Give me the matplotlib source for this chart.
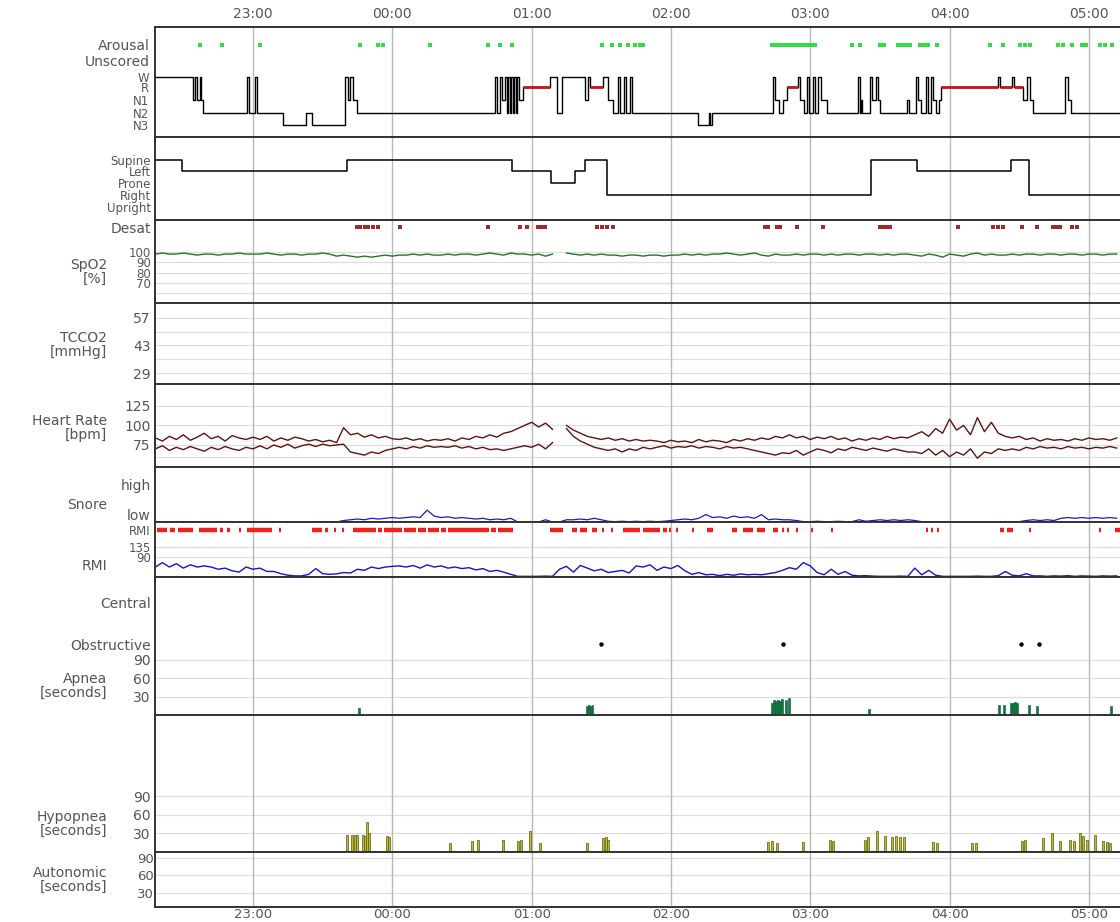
import matplotlib
matplotlib.use("Agg")
import matplotlib.pyplot as plt
import numpy as np

# time is in minutes after 22:00
W_PX, H_PX = 1120, 922
LEFT_PX, RIGHT_PX = 155, 1130
T0, T1 = 17.8, 437.7

hour_ticks = [60, 120, 180, 240, 300, 360, 420]
hour_labels = ['23:00', '00:00', '01:00', '02:00', '03:00', '04:00', '05:00']

# ---------------- hypnogram ----------------
hyp_t = [17.8, 34.2, 35.0, 35.9, 37.2, 37.6, 38.5, 57.4, 58.3, 60.9, 61.7, 72.9, 82.8, 85.4,
         99.6, 100.9, 101.8, 103.1, 104.8, 164.2, 165.1, 166.4, 167.2, 168.5, 169.4, 169.8,
         170.7, 171.1, 172.0, 172.4, 173.3, 173.7, 174.6, 176.3, 187.9, 190.9, 193.1, 203.0,
         204.3, 205.1, 210.7, 212.9, 215.1, 217.2, 218.1, 219.8, 220.7, 222.4, 223.2, 251.7,
         256.4, 256.8, 257.7, 284.0, 284.8, 286.6, 288.3, 290.0, 294.7, 295.6, 297.3, 298.6,
         299.5, 301.2, 302.0, 303.3, 304.6, 307.2, 320.5, 321.4, 321.8, 322.3, 325.7, 326.6,
         328.3, 329.2, 330.0, 341.7, 342.5, 345.6, 346.4, 347.7, 349.8, 350.7, 352.0, 352.9,
         354.2, 355.5, 356.3, 380.9, 381.7, 386.9, 387.8, 391.6, 393.4, 394.6, 395.9, 409.7,
         411.0, 412.3]
hyp_stage = ['W', 'N1', 'W', 'N1', 'W', 'N1', 'N2', 'W', 'N2', 'W', 'N2', 'N3', 'N2', 'N3',
             'W', 'N1', 'W', 'N1', 'N2', 'W', 'N2', 'W', 'N1', 'W', 'N2', 'W',
             'N2', 'W', 'N2', 'W', 'N2', 'W', 'N1', 'R', 'W', 'N2', 'W', 'N1',
             'W', 'R', 'W', 'N1', 'N2', 'W', 'N2', 'W', 'N2', 'W', 'N2', 'N3',
             'N2', 'N3', 'N2', 'W', 'N1', 'N2', 'N1', 'R', 'W', 'N1', 'N2', 'W',
             'N2', 'W', 'N2', 'W', 'N1', 'N2', 'W', 'N2', 'N1', 'N2', 'W', 'N1',
             'W', 'N1', 'N2', 'N1', 'N2', 'W', 'N1', 'N2', 'W', 'N2', 'W', 'N1',
             'N2', 'N1', 'R', 'W', 'R', 'W', 'R', 'N1', 'W', 'N1', 'N2', 'W',
             'N1', 'N2']

arousal_t = [37.2, 46.6, 63.0, 106.1, 113.8, 116.0, 136.2, 161.2, 166.4, 171.5, 210.3, 214.6,
             218.1, 221.5, 224.5, 226.7, 228.0, 283.5, 285.3, 287.0, 288.3, 290.0, 291.7,
             293.4, 295.2, 296.9, 298.6, 300.3, 302.0, 318.0, 321.4, 330.0, 331.8, 337.8,
             339.5, 341.3, 343.0, 347.3, 349.0, 350.7, 354.6, 377.4, 383.0, 390.3, 392.5,
             394.6, 406.7, 408.9, 412.7, 417.1, 418.8, 424.8, 427.0, 430.0]

# ---------------- body position ----------------
pos_t = [17.8, 29.4, 100.5, 171.5, 188.3, 198.7, 203.0, 212.5, 326.2, 346.0, 386.5, 394.2]
pos_name = ['Supine', 'Left', 'Supine', 'Left', 'Prone', 'Left', 'Supine', 'Right',
            'Supine', 'Left', 'Supine', 'Right']

desat_t = [104.8, 106.1, 108.2, 109.5, 111.7, 113.8, 123.3, 161.2, 175.0, 178.0, 182.7, 184.5,
           185.8, 208.2, 210.3, 212.5, 215.1, 280.5, 281.8, 285.7, 287.0, 294.3, 305.5, 330.0,
           331.3, 332.6, 334.4, 363.6, 378.7, 380.9, 383.0, 391.2, 397.7, 404.6, 406.3, 407.6,
           412.7, 414.9]

# ---------------- sampled traces (every 3 min from 18) ----------------
TRACE_START, TRACE_STEP = 18, 3
nan = np.nan

spo2 = [98, 99, 98, 98, 99, 98, 97, 98, 98, 97, 98, 98, 99, 98, 98,
        98, 99, 98, 97, 98, 98, 97, 98, 98, 99, 98, 96, 97, 96,
        95, 96, 95, 96, 97, 96, 97, 97, 98, 97, 98, 97, 97,
        98, 97, 98, 98, 97, 98, 99, 98, 97, 99, 98, 98,
        97, 98, 96, 98, nan,
        99, 98, 97, 98, 97, 98, 97, 97, 96, 97, 97, 96, 97,
        97, 96, 97, 97, 98, 97, 98, 97, 98, 98, 99, 98, 97, 98, 99, 97, 96, 98, 97,
        97, 98, 97, 98, 98, 97, 98, 97, 98, 98, 97, 98, 98, 97, 98, 97, 98, 98,
        97, 96, 98, 97, 95, 98, 97, 96, 98, 99, 97, 98, 97, 97,
        98, 97, 98, 98, 97, 98, 98, 97, 98, 98, 97, 98, 98, 97, 98, 98]

hr_hi = [84, 80, 86, 82, 88, 81, 85, 90, 83, 86, 80, 87, 84, 82, 85,
         82, 86, 80, 84, 81, 85, 83, 80, 82, 79, 81, 78, 97, 88,
         90, 85, 88, 84, 86, 83, 82, 84, 81, 83, 80, 82, 81,
         83, 80, 84, 82, 86, 84, 88, 85, 90, 92, 96, 100,
         104, 98, 103, 95, nan,
         100, 94, 90, 86, 84, 82, 84, 81, 83, 80, 82, 80, 81,
         80, 78, 81, 79, 80, 78, 82, 79, 81, 80, 78, 82, 80, 83, 81, 84, 82, 86, 84,
         88, 84, 86, 82, 85, 83, 86, 82, 84, 80, 83, 81, 84, 82, 86, 83, 85, 84,
         88, 92, 86, 96, 90, 108, 94, 100, 88, 110, 92, 104, 90, 86,
         84, 86, 82, 84, 80, 83, 81, 82, 80, 83, 81, 84, 82, 83, 81, 84]
hr_lo = [70, 74, 68, 72, 69, 73, 70, 67, 72, 69, 73, 70, 68, 72, 70,
         74, 70, 75, 72, 76, 71, 74, 76, 73, 76, 74, 75, 76, 66,
         64, 62, 66, 64, 68, 70, 72, 70, 73, 71, 74, 72, 73,
         72, 74, 71, 73, 70, 72, 69, 70, 68, 70, 72, 74,
         72, 76, 70, 78, nan,
         96, 86, 80, 76, 72, 70, 68, 70, 66, 70, 68, 72, 70,
         72, 74, 71, 73, 72, 74, 71, 73, 72, 70, 73, 71, 72, 70, 68, 66, 64, 62, 65,
         64, 68, 62, 66, 70, 68, 65, 70, 68, 72, 70, 68, 71, 69, 67, 70, 68, 66,
         66, 64, 70, 62, 68, 60, 66, 62, 70, 58, 66, 64, 70, 68,
         70, 68, 72, 70, 73, 71, 72, 70, 73, 71, 72, 70, 72, 71, 73, 71]

snore = [0] * 27 + \
        [0.2, 0.3, 0.4, 0.3, 0.5, 0.4, 0.5, 0.6, 0.5, 0.6, 0.7, 0.6, 1.6, 0.8, 0.6, 0.7, 0.5,
         0.6, 0.5, 0.4, 0.5, 0.3, 0.4, 0.3, 0.5,
         0, 0, 0, 0, 0.3,
         0, 0, 0.3,
         0.3, 0.4, 0.3, 0.5, 0.3,
         0.1, 0.05, 0.1, 0.05, 0.1, 0.05, 0.1, 0.05, 0.1, 0.2,
         0.3, 0.4, 0.3, 0.5,
         1.0, 0.6, 0.7, 0.5, 0.8, 0.6, 0.7, 0.5, 1.0,
         0.3, 0.4, 0.3, 0.3, 0.2,
         0.05, 0.05, 0.1, 0.05, 0.05, 0.1, 0.05, 0.05, 0.3,
         0.1, 0.2, 0.3, 0.2, 0.3, 0.2, 0.3, 0.2] + \
        [0.05] * 15 + \
        [0.2, 0.3, 0.2, 0.3, 0.2,
         0.5, 0.6, 0.5, 0.6, 0.5, 0.6, 0.5, 0.6, 0.5]

rmi = [45, 65, 45, 60, 40, 55, 45, 50, 45, 35, 40, 28, 22, 45, 35,
       40, 25, 25, 15, 8, 5, 5, 12, 38, 15, 12, 14, 20, 18,
       35, 30, 45, 38, 45, 48, 50, 45, 52, 40, 55, 45, 50,
       40, 45, 38, 42, 32, 38, 25, 30, 22, 12, 3, 3,
       3, 3, 4, 3, 35,
       48, 22, 52, 40, 28, 35, 20, 25, 30, 18, 50, 45, 55,
       30, 45, 38, 52, 28, 12, 20, 10, 12, 6, 12, 8, 14, 10, 12, 10, 15, 20, 30,
       42, 35, 65, 50, 20, 10, 35, 12, 25, 8, 5, 6, 4, 3, 3, 3, 4, 3,
       40, 10, 30, 8, 3, 3, 3, 3, 3, 4, 3, 3, 6, 25,
       8, 5, 15, 5, 5, 3, 5, 4, 6, 3, 5, 4, 3, 5, 4, 5]

rmi_marks = [(18.7, 23.0), (24.3, 26.4), (27.7, 34.2), (36.7, 44.5), (45.8, 47.1), (48.8, 50.1),
             (54.0, 55.0), (57.4, 68.2), (71.2, 72.2), (85.4, 89.7), (91.0, 92.3), (94.8, 95.8),
             (98.3, 99.3), (103.1, 113.0), (113.8, 115.6), (116.4, 124.2), (125.0, 130.2),
             (131.1, 134.5), (135.4, 140.1), (141.0, 143.1), (144.0, 161.6), (162.5, 164.7),
             (165.5, 172.0), (187.9, 193.5), (197.4, 199.5), (200.8, 203.9), (206.0, 208.2),
             (210.2, 211.2), (214.1, 215.1), (219.4, 226.7), (228.0, 235.3), (236.6, 238.3),
             (239.1, 240.1), (242.1, 243.1), (249.0, 250.0), (255.5, 258.1), (266.3, 268.5),
             (271.0, 275.3), (277.1, 280.5), (284.0, 286.2), (287.8, 288.8), (290.0, 291.0),
             (293.8, 294.8), (300.2, 301.2), (308.8, 309.8), (349.8, 350.8), (352.0, 353.0),
             (354.6, 355.6), (381.7, 383.5), (384.8, 387.3), (394.1, 395.1), (424.3, 425.3),
             (431.3, 433.4)]

# ---------------- respiratory events ----------------
obstructive_t = [209.9, 288.3, 390.8, 398.5]

apnea_t = [105.7, 203.7, 204.6, 205.4, 206.2, 283.5, 284.4, 285.3, 286.1, 287.0, 287.8, 289.5,
           290.8, 325.3, 381.2, 383.3, 386.5, 387.4, 388.2, 389.1, 394.2, 397.6, 429.5]
apnea_s = [12, 14, 16, 15, 17, 20, 24, 22, 25, 23, 26, 24, 27, 10, 16, 17, 19, 20, 21, 19, 16,
           14, 15]

hypop_t = [100.5, 102.6, 103.9, 104.8, 107.4, 108.2, 109.1, 110.0, 117.7, 118.6, 144.8, 154.3,
           156.9, 167.7, 174.1, 175.4, 179.3, 183.6, 203.9, 210.8, 212.0, 212.9, 281.8, 283.5,
           285.7, 296.9, 308.5, 309.8, 323.6, 324.9, 328.8, 332.2, 335.2, 336.9, 338.7, 340.4,
           352.9, 354.6, 369.7, 371.4, 391.2, 392.5, 400.3, 404.1, 407.6, 411.9, 413.6, 416.2,
           417.5, 419.2, 422.5, 426.1, 427.8, 429.1]
hypop_s = [28, 27, 28, 27, 28, 26, 48, 30, 26, 24, 14, 18, 20, 20, 18, 20, 34, 14, 15, 22, 24,
           20, 16, 18, 15, 16, 20, 18, 20, 24, 34, 26, 24, 26, 24, 25, 16, 14, 15, 14, 18, 20,
           22, 30, 18, 20, 18, 30, 26, 20, 28, 18, 16, 15]

TXT = '#555555'
FS = 10
FS_TIGHT = 8.5   # crowded tick labels

fig = plt.figure(figsize=(W_PX / 100, H_PX / 100), dpi=100)


def make_axes(top, bottom, ylim):
    ax = fig.add_axes([LEFT_PX / W_PX, 1 - bottom / H_PX,
                       (RIGHT_PX - LEFT_PX) / W_PX, (bottom - top) / H_PX])
    ax.set_xlim(T0, T1)
    ax.set_ylim(*ylim)
    for s in ax.spines.values():
        s.set_color('#333333')
        s.set_linewidth(1.4)
    ax.set_xticks(hour_ticks)
    ax.tick_params(length=0, labelsize=FS, colors=TXT, pad=3,
                   labelbottom=False)
    ax.grid(axis='x', color='#b8b8b8', lw=1)
    ax.set_axisbelow(True)
    return ax


def shrink(ax, names):
    for lab in ax.get_yticklabels():
        if lab.get_text() in names:
            lab.set_fontsize(FS_TIGHT)


def hgrid(ax, vals):
    for v in vals:
        ax.axhline(v, color='#dddddd', lw=0.9, zorder=0)


def title(text, y_px):
    fig.text(107 / W_PX, 1 - y_px / H_PX, text, ha='right', va='center',
             multialignment='right', fontsize=FS, color=TXT, linespacing=0.95)


times = TRACE_START + TRACE_STEP * np.arange(len(spo2))

# hypnogram
stage_row = {'W': 50, 'R': 60, 'N1': 73, 'N2': 86, 'N3': 98}
ax = make_axes(27, 137, (110, 0))
ax.set_yticks([18, 34] + list(stage_row.values()))
ax.set_yticklabels(['Arousal', 'Unscored'] + list(stage_row.keys()))
shrink(ax, list(stage_row.keys()))
ax.xaxis.tick_top()
ax.tick_params(labeltop=True, length=0, pad=4)
ax.set_xticklabels(hour_labels)
lev = [stage_row[s] for s in hyp_stage]
ax.step(hyp_t + [T1], lev + [lev[-1]], where='post', color='black', lw=1.0, zorder=2)
ends = hyp_t[1:] + [T1]
for i, s in enumerate(hyp_stage):
    if s == 'R':
        ax.hlines(stage_row['R'], hyp_t[i], ends[i], color='#c81414', lw=2.0, zorder=3)
ax.plot(arousal_t, [18] * len(arousal_t), 's', color='#33dd44', ms=2.2, mew=0)

# body position
pos_row = {'Supine': 23, 'Left': 34, 'Prone': 46, 'Right': 58, 'Upright': 70}
ax = make_axes(137, 220, (83, 0))
ax.set_yticks(list(pos_row.values()))
ax.set_yticklabels(list(pos_row.keys()))
shrink(ax, list(pos_row.keys()))
pl = [pos_row[p] for p in pos_name]
ax.step(pos_t + [T1], pl + [pl[-1]], where='post', color='black', lw=1.1)

# desat + SpO2
ax = make_axes(220, 303, (50.6, 131))
ax.set_yticks([124, 100, 90, 80, 70])
ax.set_yticklabels(['Desat', '100', '90', '80', '70'])
shrink(ax, ['100', '90', '80', '70'])
hgrid(ax, [100, 90, 80, 70, 60])
ax.plot(desat_t, [124] * len(desat_t), 's', color='#a32a2a', ms=2.8, mew=0)
ax.plot(times, spo2, color='#1f7a1f', lw=1.0)
title('SpO2\n[%]', 272)

# TCCO2
ax = make_axes(303, 384, (23.5, 64.5))
ax.set_yticks([57, 43, 29])
hgrid(ax, [57, 50, 43, 36, 29])
title('TCCO2\n[mmHg]', 345)

# heart rate
ax = make_axes(384, 467, (46.8, 153))
ax.set_yticks([125, 100, 75])
hgrid(ax, [125, 100, 75, 60])
ax.plot(times, hr_hi, color='#651010', lw=1.0)
ax.plot(times, hr_lo, color='#651010', lw=1.0)
title('Heart Rate\n[bpm]', 428)

# snore
ax = make_axes(467, 522, (0, 7.4))
ax.set_yticks([5, 1])
ax.set_yticklabels(['high', 'low'])
ax.plot(times, snore, color='#1a1acc', lw=0.9)
title('Snore', 505)

# RMI
ax = make_axes(522, 577, (0, 248))
ax.set_yticks([212, 135, 90])
ax.set_yticklabels(['RMI', '135', '90'])
shrink(ax, ['RMI', '135', '90'])
hgrid(ax, [135, 90])
for a, b in rmi_marks:
    ax.hlines(212, a, b, color='#ee2020', lw=3.2)
ax.plot(times, rmi, color='#1414cc', lw=1.0)
title('RMI', 566)

# apnea
ax = make_axes(577, 715, (0, 224))
ax.set_yticks([183, 115, 90, 60, 30])
ax.set_yticklabels(['Central', 'Obstructive', '90', '60', '30'])
hgrid(ax, [90, 60, 30])
ax.plot(obstructive_t, [115] * len(obstructive_t), 'o', color='black', ms=3.2, mew=0)
ax.bar(apnea_t, apnea_s, width=0.8, color='#0c7a40', edgecolor='#0a5a30', lw=0.4, zorder=3)
title('Apnea\n[seconds]', 686)

# hypopnea
ax = make_axes(715, 852, (0, 222))
ax.set_yticks([90, 60, 30])
hgrid(ax, [90, 60, 30])
ax.bar(hypop_t, hypop_s, width=0.8, color='#bdbd35', edgecolor='#5a5a08', lw=0.5, zorder=3)
title('Hypopnea\n[seconds]', 824)

# autonomic
ax = make_axes(852, 907, (5.5, 100.3))
ax.set_yticks([90, 60, 30])
hgrid(ax, [90, 60, 30])
ax.tick_params(labelbottom=True, length=0, pad=0.5, labelsize=9.5)
ax.set_xticklabels(hour_labels)
title('Autonomic\n[seconds]', 880)

fig.savefig('out.png', dpi=100)
